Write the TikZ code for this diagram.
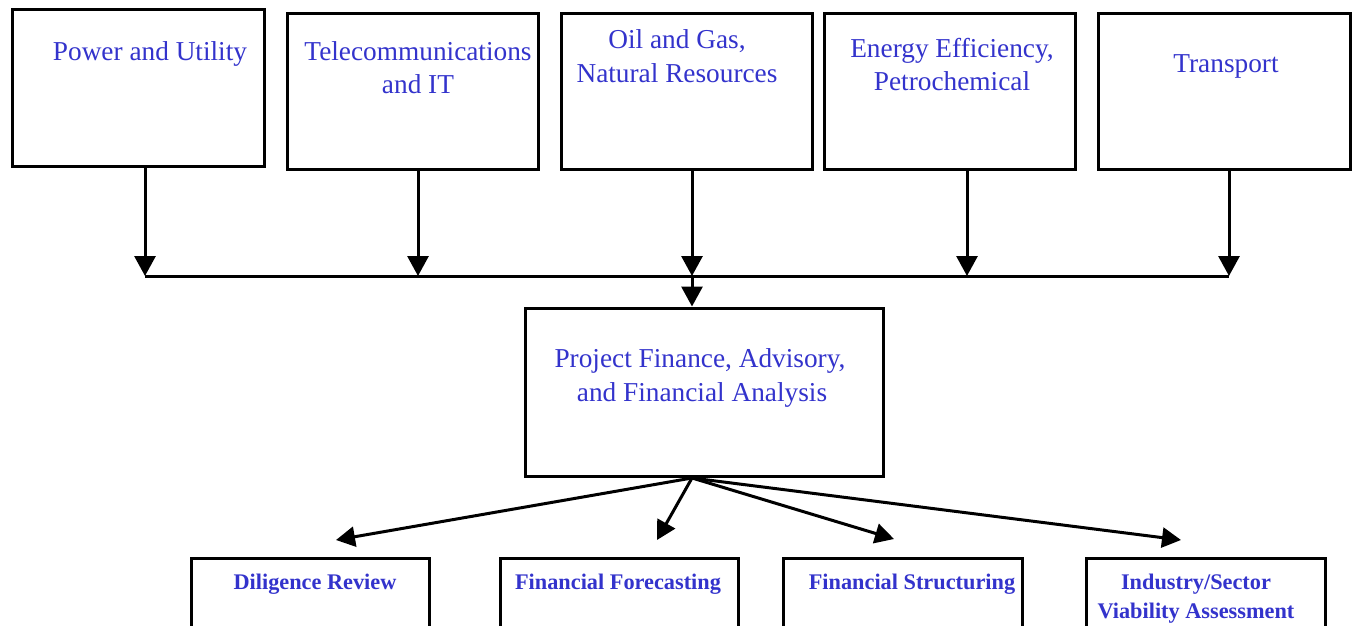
\documentclass[tikz,border=0pt]{standalone}
\usepackage{fontspec}
\setmainfont{Liberation Serif}
\usetikzlibrary{arrows.meta}
\definecolor{txtblue}{RGB}{51,51,204}
\tikzset{
  box/.style={draw=black, line width=3pt, inner sep=0pt, fill=white},
  toptxt/.style={anchor=base, text=txtblue, inner sep=0pt, font=\fontsize{27.3}{33}\selectfont},
  bottxt/.style={anchor=base, text=txtblue, inner sep=0pt, font=\fontsize{22.3}{28}\selectfont\bfseries},
  conn/.style={line width=3pt},
  arr/.style={line width=3pt, -{Triangle[length=20pt,width=21pt]}},
  darr/.style={line width=3pt, -{Triangle[length=19pt,width=20pt]}}
}
\begin{document}
\begin{tikzpicture}[x=1pt,y=-1pt]
\useasboundingbox (0,0) rectangle (1353,626);
\clip (0,0) rectangle (1353,626);
% top boxes
\node[box, minimum width=252pt, minimum height=156pt] (p1) at (138,88) {};
\node[box, minimum width=251pt, minimum height=155pt] (p2) at (412.5,91.5) {};
\node[box, minimum width=251pt, minimum height=155pt] (p3) at (686.5,91.5) {};
\node[box, minimum width=251pt, minimum height=155pt] (p4) at (949.5,91.5) {};
\node[box, minimum width=252pt, minimum height=155pt] (p5) at (1224,91.5) {};
% central box
\node[box, minimum width=358pt, minimum height=168pt] (pf) at (704,392) {};
% bottom boxes
\node[box, minimum width=238pt, minimum height=110pt] (q1) at (310,613) {};
\node[box, minimum width=238pt, minimum height=110pt] (q2) at (619,613) {};
\node[box, minimum width=239pt, minimum height=110pt] (q3) at (902.5,613) {};
\node[box, minimum width=239pt, minimum height=110pt] (q4) at (1205.5,613) {};
% texts
\node[toptxt] (t1) at (150,61) {Power and Utility};
\node[toptxt] (t2a) at (418,61) {Telecommunications};
\node[toptxt] (t2b) at (418,93) {and IT};
\node[toptxt] (t3a) at (677,49) {Oil and Gas,};
\node[toptxt] (t3b) at (677,82) {Natural Resources};
\node[toptxt] (t4a) at (952,58) {Energy Efficiency,};
\node[toptxt] (t4b) at (952,91) {Petrochemical};
\node[toptxt] (t5) at (1226,73) {Transport};
\node[toptxt] (c1) at (700,367) {Project Finance, Advisory,};
\node[toptxt] (c2) at (702,401) {and Financial Analysis};
\node[bottxt] (b1) at (315,589) {Diligence Review};
\node[bottxt] (b2) at (618,589) {Financial Forecasting};
\node[bottxt] (b3) at (912,589) {Financial Structuring};
\node[bottxt] (b4a) at (1196,589) {Industry/Sector};
\node[bottxt] (b4b) at (1196,618) {Viability Assessment};
% bus coordinates
\coordinate (a1) at (145,276);
\coordinate (a2) at (418,276);
\coordinate (a3) at (692,276);
\coordinate (a4) at (967,276);
\coordinate (a5) at (1229,276);
\draw[conn] (a1) -- (a5);
\draw[arr] (p1.south -| a1) -- (a1);
\draw[arr] (p2.south -| a2) -- (a2);
\draw[arr] (p3.south -| a3) -- (a3);
\draw[arr] (p4.south -| a4) -- (a4);
\draw[arr] (p5.south -| a5) -- (a5);
\draw[arr] (a3) -- (pf.north -| a3);
% fan out
\coordinate (o) at (692,478);
\coordinate (d1) at (336,540);
\coordinate (d2) at (657,540);
\coordinate (d3) at (894,539);
\coordinate (d4) at (1181,540);
\draw[darr] (o) -- (d1);
\draw[darr] (o) -- (d2);
\draw[darr] (o) -- (d3);
\draw[darr] (o) -- (d4);
\end{tikzpicture}
\end{document}
